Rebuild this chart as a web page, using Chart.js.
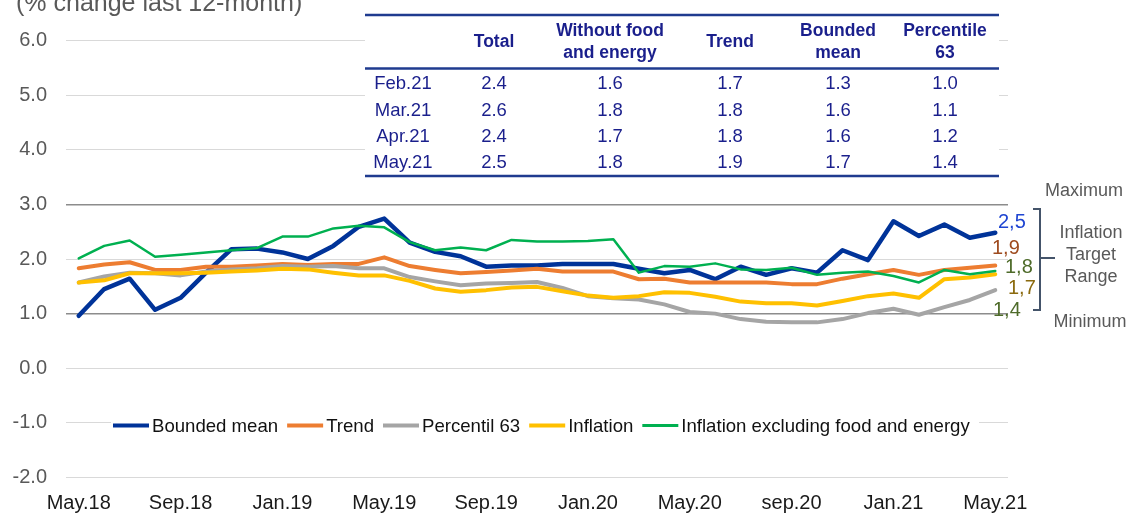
<!DOCTYPE html>
<html>
<head>
<meta charset="utf-8">
<script src="https://cdn.jsdelivr.net/npm/chart.js@4.4.1/dist/chart.umd.min.js"></script>
<style>
html,body{margin:0;padding:0;background:#fff;}
#wrap{width:1128px;height:516px;position:relative;}
</style>
</head>
<body>
<div id="wrap"><canvas id="c" width="1128" height="516"></canvas></div>
<script>
const categories = ['May.18','Jun.18','Jul.18','Aug.18','Sep.18','Oct.18','Nov.18','Dec.18','Jan.19','Feb.19','Mar.19','Apr.19','May.19','Jun.19','Jul.19','Aug.19','Sep.19','Oct.19','Nov.19','Dec.19','Jan.20','Feb.20','Mar.20','Apr.20','May.20','Jun.20','Jul.20','Aug.20','sep.20','Oct.20','Nov.20','Dec.20','Jan.21','Feb.21','Mar.21','Apr.21','May.21'];

const boundedMean = [0.96,1.45,1.64,1.07,1.29,1.75,2.18,2.19,2.12,2.00,2.24,2.59,2.74,2.30,2.13,2.05,1.86,1.88,1.88,1.91,1.91,1.91,1.82,1.74,1.80,1.63,1.86,1.71,1.83,1.75,2.16,1.98,2.69,2.42,2.63,2.39,2.48];
const trend = [1.83,1.90,1.94,1.80,1.80,1.86,1.86,1.88,1.91,1.89,1.91,1.91,2.03,1.87,1.80,1.74,1.76,1.79,1.82,1.77,1.77,1.77,1.63,1.64,1.57,1.57,1.57,1.57,1.54,1.54,1.64,1.72,1.80,1.71,1.80,1.84,1.88];
const percentil63 = [1.57,1.68,1.75,1.74,1.70,1.77,1.81,1.83,1.87,1.86,1.87,1.83,1.83,1.67,1.59,1.52,1.55,1.56,1.58,1.47,1.32,1.28,1.26,1.17,1.03,1.00,0.90,0.85,0.84,0.84,0.90,1.01,1.09,0.98,1.12,1.25,1.43];
const inflation = [1.57,1.61,1.74,1.74,1.74,1.75,1.77,1.79,1.82,1.81,1.75,1.70,1.70,1.60,1.46,1.40,1.43,1.48,1.49,1.41,1.33,1.29,1.32,1.39,1.38,1.31,1.22,1.19,1.19,1.15,1.23,1.32,1.37,1.29,1.63,1.66,1.72];
const inflationExFoodEnergy = [2.01,2.24,2.34,2.04,2.08,2.12,2.16,2.20,2.41,2.41,2.56,2.61,2.58,2.31,2.16,2.21,2.16,2.35,2.32,2.32,2.33,2.36,1.75,1.87,1.86,1.92,1.81,1.80,1.84,1.71,1.75,1.77,1.69,1.57,1.80,1.72,1.78];

const seriesNames = ['Bounded mean','Trend','Percentil 63','Inflation','Inflation excluding food and energy'];
const yTicks = [-2,-1,0,1,2,3,4,5,6];
const targetLines = [1,3];

const tableHeaders = [['',''],['Total'],['Without food','and energy'],['Trend'],['Bounded','mean'],['Percentile','63']];
const tableRows = ['Feb.21','Mar.21','Apr.21','May.21'];
const tableTotal = ['2.4','2.6','2.4','2.5'];
const tableWithout = ['1.6','1.8','1.7','1.8'];
const tableTrend = ['1.7','1.8','1.8','1.9'];
const tableBounded = ['1.3','1.6','1.6','1.7'];
const tablePerc = ['1.0','1.1','1.2','1.4'];

const endLabels = ['2,5','1,9','1,8','1,7','1,4'];
const rangeLabels = ['Maximum','Inflation','Target','Range','Minimum'];
const titleText = '(% change last 12-month)';

const FONT = "'Liberation Sans', Arial, sans-serif";
const colors = ['#003399','#ED7D31','#A5A5A5','#FFC000','#00B050'];
const widths = [4.5,4,4,4,2.5];

const overlay = {
  id:'overlay',
  afterDraw(chart){
    const ctx = chart.ctx;
    ctx.save();
    // title
    ctx.fillStyle = '#595959';
    ctx.font = '25px ' + FONT;
    ctx.textAlign = 'left';
    ctx.textBaseline = 'alphabetic';
    ctx.fillText(titleText, 16, 11);

    // table
    const tx0 = 365, tx1 = 999;
    ctx.fillStyle = '#fff';
    ctx.fillRect(tx0, 13, tx1 - tx0, 165);
    ctx.strokeStyle = '#1F3B8F';
    ctx.lineWidth = 2.5;
    [15, 68.5, 176].forEach(y => { ctx.beginPath(); ctx.moveTo(tx0, y); ctx.lineTo(tx1, y); ctx.stroke(); });
    const colX = [403, 494, 610, 730, 838, 945];
    ctx.fillStyle = '#1a1f8c';
    ctx.textAlign = 'center';
    ctx.textBaseline = 'middle';
    ctx.font = 'bold 17.5px ' + FONT;
    tableHeaders.forEach((h, i) => {
      if (h.length === 1) ctx.fillText(h[0], colX[i], 42);
      else { ctx.fillText(h[0], colX[i], 31); ctx.fillText(h[1], colX[i], 53.5); }
    });
    ctx.font = '18.5px ' + FONT;
    const rowY = [84, 111, 137, 163];
    const cols = [tableRows, tableTotal, tableWithout, tableTrend, tableBounded, tablePerc];
    cols.forEach((col, ci) => col.forEach((v, ri) => ctx.fillText(v, colX[ci], rowY[ri])));

    // legend
    ctx.fillStyle = '#fff';
    ctx.fillRect(111, 414, 868, 23);
    const ly = 425.5;
    let x = 113;
    ctx.font = '18.6px ' + FONT;
    ctx.textAlign = 'left';
    seriesNames.forEach((n, i) => {
      ctx.strokeStyle = colors[i];
      ctx.lineWidth = i === 4 ? 3 : 4;
      ctx.beginPath(); ctx.moveTo(x, ly); ctx.lineTo(x + 36, ly); ctx.stroke();
      x += 39;
      ctx.fillStyle = '#111';
      ctx.fillText(n, x, ly + 1);
      x += ctx.measureText(n).width + 9;
    });

    // end labels
    ctx.font = '20px ' + FONT;
    ctx.textAlign = 'left';
    const elPos = [[998,222,'#1F45D2'],[992,248,'#9E4B1E'],[1005,267,'#4E6B2A'],[1008,288,'#8B6A0E'],[993,310,'#4E6B2A']];
    endLabels.forEach((t, i) => { ctx.fillStyle = elPos[i][2]; ctx.fillText(t, elPos[i][0], elPos[i][1]); });

    // bracket
    ctx.strokeStyle = '#44546A';
    ctx.lineWidth = 2;
    ctx.beginPath();
    ctx.moveTo(1033, 209); ctx.lineTo(1040, 209); ctx.lineTo(1040, 310); ctx.lineTo(1033, 310);
    ctx.moveTo(1040, 258); ctx.lineTo(1055, 258);
    ctx.stroke();

    ctx.fillStyle = '#595959';
    ctx.font = '18px ' + FONT;
    ctx.textAlign = 'center';
    ctx.fillText(rangeLabels[0], 1084, 191);
    ctx.fillText(rangeLabels[1], 1091, 233);
    ctx.fillText(rangeLabels[2], 1091, 255);
    ctx.fillText(rangeLabels[3], 1091, 277);
    ctx.fillText(rangeLabels[4], 1090, 322);
    ctx.restore();
  }
};

const datasets = [boundedMean, trend, percentil63, inflation, inflationExFoodEnergy].map((d, i) => ({
  label: seriesNames[i],
  data: d,
  borderColor: colors[i],
  backgroundColor: colors[i],
  borderWidth: widths[i],
  pointRadius: 0,
  tension: 0,
  fill: false,
  borderJoinStyle: 'round',
  borderCapStyle: 'round',
  order: 5 - i
}));

new Chart(document.getElementById('c'), {
  type: 'line',
  data: { labels: categories, datasets },
  options: {
    responsive: false,
    animation: false,
    events: [],
    layout: { padding: { left: 0, right: 120, top: 40.5, bottom: 0 } },
    plugins: { legend: { display: false }, tooltip: { enabled: false }, title: { display: false } },
    scales: {
      x: {
        type: 'category',
        offset: true,
        grid: { display: false, drawTicks: false },
        border: { display: false },
        afterFit(s){ s.height = 38.5; },
        ticks: {
          autoSkip: false, maxRotation: 0, minRotation: 0, padding: 14,
          color: '#1a1a1a', font: { family: FONT, size: 20 },
          callback(v, i){ return i % 4 === 0 ? categories[i] : ''; }
        }
      },
      y: {
        min: -2, max: 6,
        afterBuildTicks(s){ s.ticks = yTicks.map(v => ({ value: v })); },
        afterFit(s){ s.width = 66; },
        border: { display: false },
        grid: {
          drawTicks: false,
          color: c => targetLines.includes(c.tick.value) ? '#8c8c8c' : '#d9d9d9',
          lineWidth: c => targetLines.includes(c.tick.value) ? 1.5 : 1
        },
        ticks: {
          padding: 19, color: '#595959', font: { family: FONT, size: 20 },
          callback: v => Number(v).toFixed(1)
        }
      }
    }
  },
  plugins: [overlay]
});
</script>
</body>
</html>
